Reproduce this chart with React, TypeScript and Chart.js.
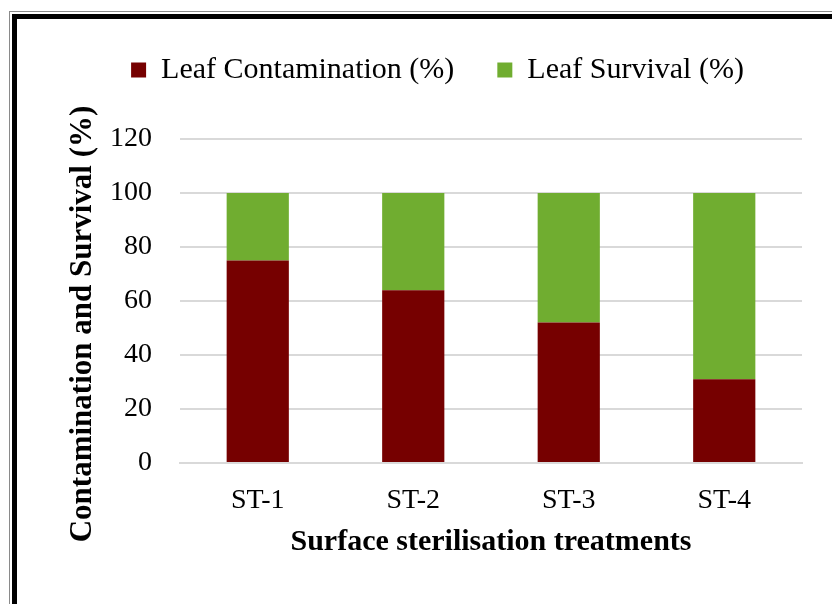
import React, { useEffect, useRef } from "react";
import { Chart, registerables } from "chart.js";

Chart.register(...registerables);

const categories = ["ST-1", "ST-2", "ST-3", "ST-4"];
const contamination = [75, 64, 52, 31];
const survival = [25, 36, 48, 69];
const seriesNames = ["Leaf Contamination (%)", "Leaf Survival (%)"];
const yTicks = [0, 20, 40, 60, 80, 100, 120];
const xTitle = "Surface sterilisation treatments";
const yTitle = "Contamination and Survival (%)";

const FONT = "'Liberation Serif', 'Times New Roman', serif";

const yTitlePlugin = {
  id: "yTitlePlugin",
  afterDraw(chart: any) {
    const ctx = chart.ctx;
    ctx.save();
    ctx.translate(83, 324);
    ctx.rotate(-Math.PI / 2);
    ctx.font = `bold 31px ${FONT}`;
    ctx.fillStyle = "#000";
    ctx.textAlign = "center";
    ctx.textBaseline = "middle";
    ctx.fillText(yTitle, 0, 0);
    ctx.restore();
  },
};

export default function App() {
  const ref = useRef<HTMLCanvasElement | null>(null);
  useEffect(() => {
    if (!ref.current) return;
    const chart = new Chart(ref.current, {
      type: "bar",
      data: {
        labels: categories,
        datasets: [
          {
            label: seriesNames[0],
            data: contamination,
            backgroundColor: "#760000",
            borderWidth: 0,
            barPercentage: 1,
            categoryPercentage: 0.4,
          },
          {
            label: seriesNames[1],
            data: survival,
            backgroundColor: "#70ad30",
            borderWidth: 0,
            barPercentage: 1,
            categoryPercentage: 0.4,
          },
        ],
      },
      options: {
        animation: false,
        responsive: false,
        maintainAspectRatio: false,
        layout: { padding: { left: 73, right: 30, top: 12, bottom: 40 } },
        plugins: {
          legend: {
            position: "top",
            labels: {
              font: { family: FONT, size: 30 },
              color: "#000",
              boxWidth: 15,
              boxHeight: 15,
              padding: 43,
            },
          },
          // invisible spacer between the legend and the plot area
          title: {
            display: true,
            text: "",
            weight: 500,
            font: { family: FONT, size: 20 },
            padding: { top: 10, bottom: 10 },
          },
          tooltip: { enabled: false },
        },
        scales: {
          x: {
            stacked: true,
            afterFit: (scale: any) => {
              scale.height = 101;
            },
            grid: { display: false, drawTicks: false },
            border: { display: true, color: "#d9d9d9", width: 2 },
            ticks: { font: { family: FONT, size: 28 }, color: "#000", padding: 21 },
            title: {
              display: true,
              text: xTitle,
              font: { family: FONT, size: 30, weight: "bold" },
              color: "#000",
              padding: { top: 8, bottom: 4 },
            },
          },
          y: {
            stacked: true,
            min: 0,
            max: 120,
            afterBuildTicks: (scale: any) => {
              scale.ticks = yTicks.map((v) => ({ value: v }));
            },
            afterFit: (scale: any) => {
              scale.width = 107;
            },
            grid: { color: "#d9d9d9", lineWidth: 2, drawTicks: false },
            border: { display: false },
            ticks: { font: { family: FONT, size: 28 }, color: "#000", padding: 28 },
          },
        },
      },
      plugins: [yTitlePlugin],
    });
    return () => chart.destroy();
  }, []);

  return (
    <div
      style={{
        position: "fixed",
        left: 0,
        top: 0,
        width: 832,
        height: 604,
        background: "#fff",
        overflow: "hidden",
      }}
    >
      <canvas
        ref={ref}
        width={832}
        height={604}
        style={{ position: "absolute", left: 0, top: 0, width: 832, height: 604 }}
      />
      <div
        style={{
          position: "absolute",
          left: 9,
          top: 11,
          width: 900,
          height: 700,
          borderLeft: "1.5px solid #8a8a8a",
          borderTop: "1.5px solid #8a8a8a",
          pointerEvents: "none",
        }}
      />
      <div
        style={{
          position: "absolute",
          left: 12,
          top: 14,
          width: 900,
          height: 700,
          borderLeft: "5px solid #000",
          borderTop: "5px solid #000",
          pointerEvents: "none",
        }}
      />
    </div>
  );
}
